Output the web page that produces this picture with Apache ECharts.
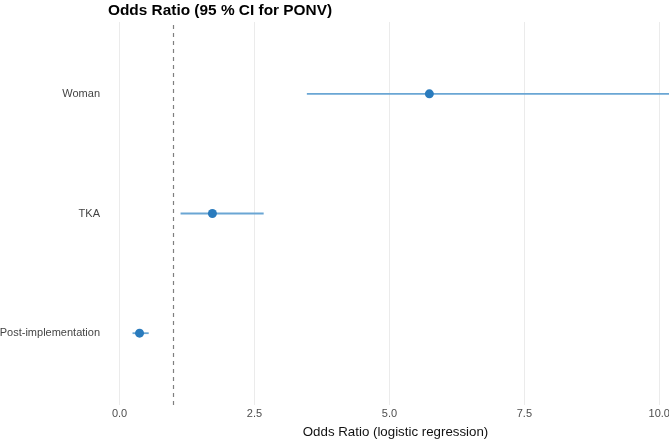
<!DOCTYPE html>
<html>
<head>
<meta charset="utf-8">
<script src="https://cdn.jsdelivr.net/npm/echarts@6/dist/echarts.min.js"></script>
<style>
  html, body { margin: 0; padding: 0; background: #fff; }
  #chart { width: 669px; height: 441px; }
</style>
</head>
<body>
<div id="chart"></div>
<script>
// bottom to top
const categories = ["Post-implementation", "TKA", "Woman"];
const oddsRatio = [0.37, 1.72, 5.74];
const ciLower = [0.24, 1.13, 3.47];
const ciUpper = [0.54, 2.67, 10.2];
const xTicks = [0, 2.5, 5, 7.5, 10];
const refLine = 1;

const chart = echarts.init(document.getElementById("chart"));

const points = categories.map((c, i) => [oddsRatio[i], i]);
const bars = categories.map((c, i) => [ciLower[i], ciUpper[i], i]);

const option = {
  animation: false,
  title: {
    text: "Odds Ratio (95 % CI for PONV)",
    left: 103,
    top: -2,
    textStyle: {
      fontFamily: "Liberation Sans",
      fontSize: 15.4,
      fontWeight: "bold",
      color: "#000",
    },
  },
  grid: {
    left: 105,
    right: 0,
    top: 22,
    bottom: 36,
    outerBoundsMode: "none",
    containLabel: false,
  },
  xAxis: {
    type: "value",
    min: -0.27,
    max: 10.18,
    name: "Odds Ratio (logistic regression)",
    nameLocation: "middle",
    nameGap: 21,
    nameTextStyle: {
      fontFamily: "Liberation Sans",
      fontSize: 13.3,
      color: "#111",
      padding: [0, 0, 0, 17],
    },
    axisLine: { show: false },
    axisTick: { show: false, customValues: xTicks },
    axisLabel: {
      customValues: xTicks,
      color: "#4d4d4d",
      fontFamily: "Liberation Sans",
      fontSize: 11,
      margin: 3,
      formatter: (v) => v.toFixed(1),
    },
    splitLine: {
      show: true,
      lineStyle: { color: "#ebebeb", width: 1 },
    },
  },
  yAxis: {
    type: "value",
    min: -0.6,
    max: 2.6,
    axisLine: { show: false },
    axisTick: { show: false },
    splitLine: { show: false },
    axisLabel: {
      color: "#444",
      fontFamily: "Liberation Sans",
      fontSize: 11,
      margin: 5,
      formatter: (v) => (Number.isInteger(v) && categories[v] ? categories[v] : ""),
    },
  },
  series: [
    {
      type: "custom",
      data: bars,
      renderItem: (params, api) => {
        const a = api.coord([api.value(0), api.value(2)]);
        const b = api.coord([api.value(1), api.value(2)]);
        return {
          type: "line",
          shape: { x1: a[0], y1: a[1], x2: b[0], y2: b[1] },
          style: { stroke: "#6aa6d4", lineWidth: 1.8 },
        };
      },
      markLine: {
        silent: true,
        symbol: "none",
        label: { show: false },
        lineStyle: { color: "#7f7f7f", type: [4, 4], width: 1.2 },
        data: [{ xAxis: refLine }],
      },
    },
    {
      type: "scatter",
      data: points,
      symbolSize: 9,
      itemStyle: { color: "#2a7bbd", opacity: 1 },
    },
  ],
};

chart.setOption(option);
</script>
</body>
</html>
